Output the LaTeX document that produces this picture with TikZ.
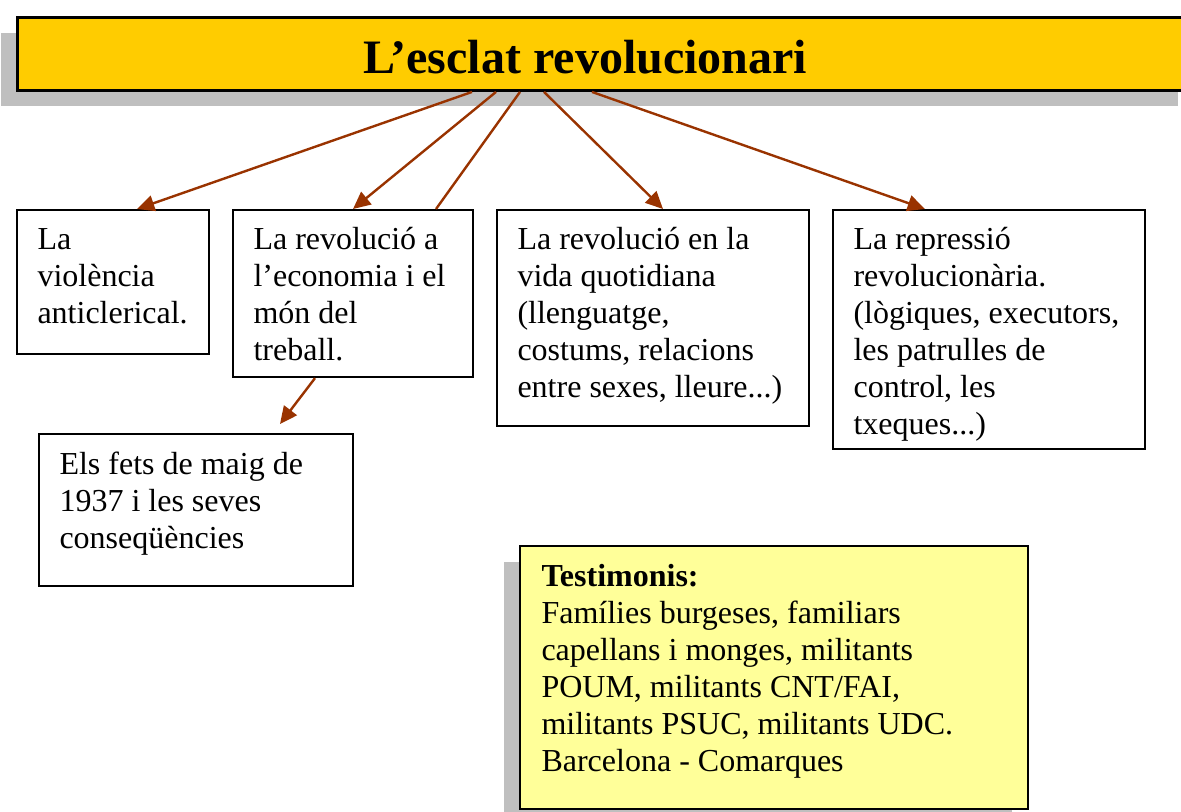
\documentclass[tikz,border=0pt]{standalone}
\usepackage{fontspec}
\setmainfont{Liberation Serif}
\usetikzlibrary{arrows.meta,calc,shadows}
\definecolor{titlefill}{HTML}{FFCC00}
\definecolor{notefill}{HTML}{FFFF99}
\definecolor{shadowgray}{HTML}{BFBFBF}
\definecolor{arrowbrown}{HTML}{993300}
\begin{document}
\begin{tikzpicture}[x=0.375pt,y=-0.375pt,
  boxnode/.style={draw=black,line width=0.8pt,fill=white,inner sep=0pt,anchor=north west},
  titlebox/.style={draw=black,line width=1.1pt,fill=titlefill,inner sep=0pt,anchor=north west,
     drop shadow={shadow xshift=-6pt,shadow yshift=-6pt,fill=shadowgray,opacity=1}},
  notebox/.style={draw=black,line width=0.9pt,fill=notefill,inner sep=0pt,anchor=north west,
     drop shadow={shadow xshift=-6pt,shadow yshift=-6pt,fill=shadowgray,opacity=1}},
  txt/.style={inner sep=0pt,anchor=base west,font=\fontsize{12pt}{13.875pt}\selectfont},
  arr/.style={draw=arrowbrown,line width=0.9pt,-{Triangle[length=6.5pt,width=6pt]}},
  plainline/.style={draw=arrowbrown,line width=0.9pt}]
\useasboundingbox (0,0) rectangle (1181,811);
\clip (0,0) rectangle (1181,811);

% title
\node[titlebox,minimum width=1177*0.375pt,minimum height=73*0.375pt] (title) at (16,16) {};
\node[inner sep=0pt,anchor=base,font=\fontsize{18pt}{21pt}\selectfont\bfseries] (ttext) at (585,73) {L’esclat revolucionari};

% boxes
\node[boxnode,minimum width=192*0.375pt,minimum height=144*0.375pt] (b1) at (16,209) {};
\node[boxnode,minimum width=240*0.375pt,minimum height=167*0.375pt] (b2) at (232,209) {};
\node[boxnode,minimum width=312*0.375pt,minimum height=216*0.375pt] (b3) at (496,209) {};
\node[boxnode,minimum width=312*0.375pt,minimum height=239*0.375pt] (b4) at (832,209) {};
\node[boxnode,minimum width=314*0.375pt,minimum height=152*0.375pt] (b5) at (38,433) {};
\node[notebox,minimum width=508*0.375pt,minimum height=263*0.375pt] (note) at (519,545) {};

% texts
\node[txt] (t1) at ($(b1.north west)+(21,40)$) {\parbox[t]{200pt}{\fontsize{12pt}{13.875pt}\selectfont La\\violència\\anticlerical.}};
\node[txt] (t2) at ($(b2.north west)+(21,40)$) {\parbox[t]{200pt}{\fontsize{12pt}{13.875pt}\selectfont La revolució a\\l’economia i el\\món del\\treball.}};
\node[txt] (t3) at ($(b3.north west)+(21,40)$) {\parbox[t]{200pt}{\fontsize{12pt}{13.875pt}\selectfont La revolució en la\\vida quotidiana\\(llenguatge,\\costums, relacions\\entre sexes, lleure...)}};
\node[txt] (t4) at ($(b4.north west)+(21,40)$) {\parbox[t]{200pt}{\fontsize{12pt}{13.875pt}\selectfont La repressió\\revolucionària.\\(lògiques, executors,\\les patrulles de\\control, les\\txeques...)}};
\node[txt] (t5) at ($(b5.north west)+(21,41)$) {\parbox[t]{200pt}{\fontsize{12pt}{13.875pt}\selectfont Els fets de maig de\\1937 i les seves\\conseqüències}};
\node[txt] (t6) at ($(note.north west)+(22,41)$) {\parbox[t]{250pt}{\fontsize{12pt}{13.875pt}\selectfont \textbf{Testimonis:}\\Famílies burgeses, familiars\\capellans i monges, militants\\POUM, militants CNT/FAI,\\militants PSUC, militants UDC.\\Barcelona - Comarques}};

% connectors
\draw[arr] ($(title.south west)+(456,0)$) -- ($(b1.north west)+(121,0)$);
\draw[arr] ($(title.south west)+(480,0)$) -- ($(b2.north west)+(121,0)$);
\draw[plainline] ($(title.south west)+(504,0)$) -- ($(b2.north west)+(204,0)$);
\draw[arr] ($(title.south west)+(528,0)$) -- ($(b3.north west)+(167,0)$);
\draw[arr] ($(title.south west)+(576,0)$) -- ($(b4.north west)+(93,0)$);
\draw[arr] ($(b2.south west)+(83,0)$) -- ($(b5.north west)+(242,-9)$);
\end{tikzpicture}
\end{document}
